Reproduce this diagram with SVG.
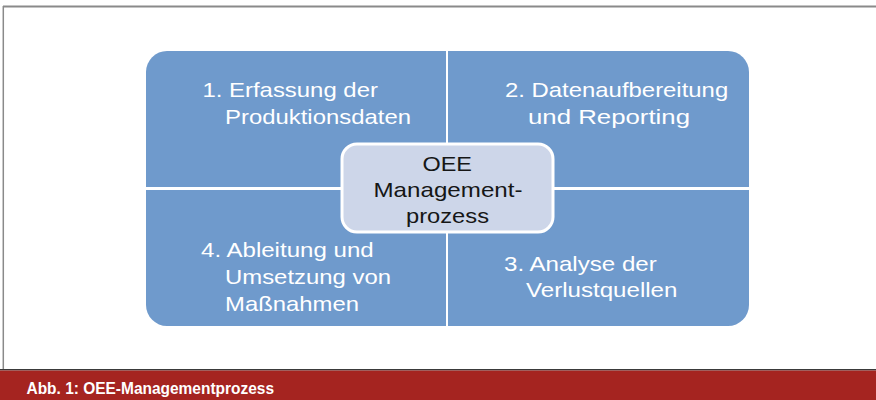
<svg xmlns="http://www.w3.org/2000/svg" width="876" height="400" viewBox="0 0 876 400">
<style>
.q{fill:#6f9acc;}
.qt{font-family:"Liberation Sans",Arial,sans-serif;font-size:21px;fill:#ffffff;}
.ct{font-family:"Liberation Sans",Arial,sans-serif;font-size:21px;fill:#161616;text-anchor:middle;}
.cap{font-family:"Liberation Sans Narrow","Liberation Sans",Arial,sans-serif;font-size:17px;font-weight:bold;fill:#ffffff;}
</style>
<rect x="0" y="0" width="876" height="400" fill="#ffffff"/>
<g id="frame">
<line x1="3" y1="6.5" x2="876" y2="6.5" stroke="#8a8a8a" stroke-width="2"/>
<line x1="3.3" y1="6" x2="3.3" y2="370" stroke="#8a8a8a" stroke-width="1.5"/>
<rect x="0" y="369" width="876" height="1.5" fill="#3a3a3a"/>
<rect x="0" y="370.5" width="876" height="29.5" fill="#a52420"/>
<text class="cap" x="26.5" y="393.5" textLength="247.5" lengthAdjust="spacingAndGlyphs">Abb. 1: OEE-Managementprozess</text>
</g>
<g id="q1">
<path class="q" d="M146,187 V72 A21,21 0 0 1 167,51 H446 V187 Z"/>
<text class="qt" x="202.5" y="97" textLength="175.4" lengthAdjust="spacingAndGlyphs">1. Erfassung der</text>
<text class="qt" x="225" y="123.7" textLength="186" lengthAdjust="spacingAndGlyphs">Produktionsdaten</text>
</g>
<g id="q2">
<path class="q" d="M448,51 H728 A21,21 0 0 1 749,72 V187 H448 Z"/>
<text class="qt" x="505" y="97" textLength="223.2" lengthAdjust="spacingAndGlyphs">2. Datenaufbereitung</text>
<text class="qt" x="528" y="123.7" textLength="162" lengthAdjust="spacingAndGlyphs">und Reporting</text>
</g>
<g id="q4">
<path class="q" d="M146,190 H446 V326 H167 A21,21 0 0 1 146,305 Z"/>
<text class="qt" x="201" y="257" textLength="172.7" lengthAdjust="spacingAndGlyphs">4. Ableitung und</text>
<text class="qt" x="225" y="284" textLength="166" lengthAdjust="spacingAndGlyphs">Umsetzung von</text>
<text class="qt" x="225" y="310.5" textLength="134" lengthAdjust="spacingAndGlyphs">Maßnahmen</text>
</g>
<g id="q3">
<path class="q" d="M448,190 H749 V305 A21,21 0 0 1 728,326 H448 Z"/>
<text class="qt" x="504" y="270.7" textLength="152.8" lengthAdjust="spacingAndGlyphs">3. Analyse der</text>
<text class="qt" x="526" y="296.7" textLength="151.4" lengthAdjust="spacingAndGlyphs">Verlustquellen</text>
</g>
<g id="center">
<rect x="342" y="144" width="211" height="88" rx="15" ry="15" fill="#cdd6e9" stroke="#ffffff" stroke-width="3"/>
<text class="ct" x="447.2" y="170.7" textLength="49.5" lengthAdjust="spacingAndGlyphs">OEE</text>
<text class="ct" x="448" y="196.5" textLength="149" lengthAdjust="spacingAndGlyphs">Management-</text>
<text class="ct" x="447.5" y="222.5" textLength="83" lengthAdjust="spacingAndGlyphs">prozess</text>
</g>
<g id="connectors"></g>
</svg>
